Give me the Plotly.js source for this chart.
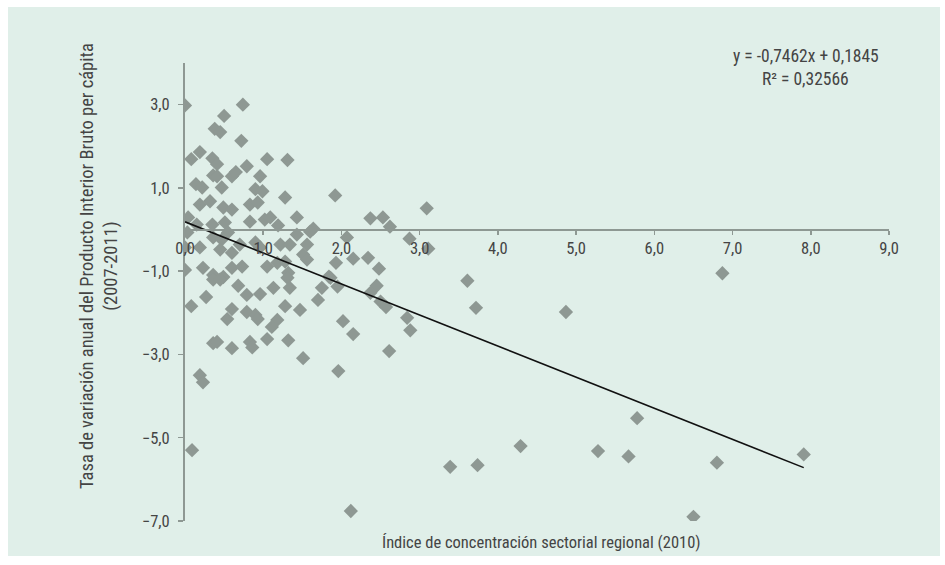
<!DOCTYPE html>
<html>
<head>
<meta charset="utf-8">
<script src="https://cdn.plot.ly/plotly-3.0.1.min.js"></script>
<style>
html,body{margin:0;padding:0;background:#ffffff;width:945px;height:565px;overflow:hidden;}
#chart{position:absolute;left:8px;top:7px;width:932px;height:549px;}
</style>
</head>
<body>
<div id="chart"></div>
<script>
// Índice de concentración sectorial regional (2010)
const concentracion = [
  0.00,0.74,0.50,0.38,0.45,0.72,0.08,0.19,0.35,0.41,1.05,1.31,0.79,0.36,0.41,0.60,0.65,0.96,0.14,0.22,
  0.47,0.90,0.99,1.28,1.92,0.19,0.32,0.49,0.60,0.83,0.93,0.83,1.02,0.04,0.15,0.35,0.51,1.43,1.09,1.19,
  1.64,2.37,2.53,2.62,3.09,
  0.03,0.36,0.47,0.55,0.70,0.90,0.96,0.00,0.19,0.45,0.60,0.23,0.36,0.49,0.60,0.73,1.05,0.00,1.43,2.07,
  1.60,1.22,1.34,1.56,1.51,1.56,1.18,1.28,1.32,1.31,1.13,1.34,1.86,1.75,1.95,1.70,1.28,1.47,1.18,1.11,
  2.02,2.15,1.32,1.51,1.96,2.87,3.11,2.34,2.48,2.15,1.93,1.84,2.45,2.37,2.50,2.57,2.84,2.88,2.61,
  0.36,0.45,0.68,0.79,0.96,0.08,0.27,0.60,0.54,0.79,0.90,0.93,1.05,0.36,0.41,0.60,0.83,0.86,0.19,0.23,
  0.09,2.12,
  3.61,3.72,3.39,3.74,4.29,4.87,5.28,5.67,5.78,6.50,6.87,6.80,7.91
];
// Tasa de variación anual del PIB per cápita (2007-2011)
const variacionPIB = [
  2.98,3.00,2.73,2.42,2.34,2.13,1.69,1.86,1.71,1.57,1.69,1.67,1.52,1.30,1.28,1.28,1.38,1.28,1.09,1.01,
  1.01,0.97,0.92,0.77,0.82,0.60,0.68,0.53,0.48,0.60,0.65,0.19,0.24,0.29,0.12,0.12,0.17,0.29,0.29,0.10,
  0.02,0.27,0.29,0.07,0.51,
  -0.07,-0.19,-0.24,-0.07,-0.36,-0.31,-0.43,-0.43,-0.43,-0.48,-0.56,-0.92,-1.09,-1.14,-0.92,-0.89,-0.89,-0.97,-0.12,-0.19,
  -0.05,-0.36,-0.36,-0.36,-0.60,-0.72,-0.80,-0.77,-1.04,-1.16,-1.40,-1.40,-1.16,-1.40,-1.37,-1.69,-1.84,-1.93,-2.17,-2.34,
  -2.20,-2.51,-2.66,-3.09,-3.40,-0.22,-0.46,-0.68,-0.94,-0.70,-0.80,-1.13,-1.35,-1.52,-1.73,-1.86,-2.12,-2.42,-2.92,
  -1.20,-1.20,-1.35,-1.57,-1.55,-1.84,-1.62,-1.91,-2.15,-1.98,-2.05,-2.15,-2.63,-2.73,-2.70,-2.85,-2.70,-2.83,-3.50,-3.67,
  -5.30,-6.76,
  -1.23,-1.88,-5.70,-5.66,-5.20,-1.98,-5.32,-5.45,-4.53,-6.90,-1.05,-5.60,-5.40
];
// Linear trendline as printed on the chart
const pendiente = -0.7462;
const intercepto = 0.1845;
const textoEcuacion = "y = -0,7462x + 0,1845";
const textoR2 = "R² = 0,32566";
const tituloX = "Índice de concentración sectorial regional (2010)";
const tituloY = "Tasa de variación anual del Producto Interior Bruto per cápita<br>(2007-2011)";

const xMin = Math.min(...concentracion), xMax = Math.max(...concentracion);
const trendX = [xMin, xMax];
const trendY = trendX.map(v => pendiente * v + intercepto);

const FONT = "'Liberation Sans Narrow', 'Arial Narrow', 'Roboto Condensed', 'Liberation Sans', sans-serif";
const TXT = "#444444";
const AXIS = "#8e9893";
const BG = "#e0efe9";

const data = [
  {x: concentracion, y: variacionPIB, type: "scatter", mode: "markers",
   marker: {symbol: "diamond", size: 11, color: "#8e9893", line: {width: 0}},
   hoverinfo: "x+y", showlegend: false},
  {x: trendX, y: trendY, type: "scatter", mode: "lines",
   line: {color: "#111111", width: 1.6}, hoverinfo: "skip", showlegend: false}
];

const layout = {
  width: 932, height: 549,
  margin: {l: 177, r: 51, t: 56, b: 35},
  paper_bgcolor: BG, plot_bgcolor: BG,
  separators: ",.",
  font: {family: FONT, size: 16, color: TXT},
  showlegend: false,
  xaxis: {
    range: [0, 9], tickmode: "linear", tick0: 0, dtick: 1, tickformat: ".1f",
    showgrid: false, zeroline: false, showline: true, linecolor: AXIS, linewidth: 2,
    ticks: "outside", ticklen: 4, tickcolor: AXIS, tickwidth: 1.5,
    anchor: "free", position: 7/11,
    tickfont: {family: FONT, size: 16.5, color: TXT}
  },
  yaxis: {
    range: [-7, 4], tickmode: "linear", tick0: -7, dtick: 2, tickformat: ".1f",
    showgrid: false, zeroline: false, showline: true, linecolor: AXIS, linewidth: 2,
    ticks: "outside", ticklen: 5, tickcolor: AXIS, tickwidth: 1.5,
    ticklabelstandoff: 5,
    tickfont: {family: FONT, size: 16.5, color: TXT}
  },
  annotations: [
    {text: tituloX, xref: "paper", yref: "paper", x: 0.507, y: -0.048,
     xanchor: "center", yanchor: "middle", showarrow: false,
     font: {family: FONT, size: 16.5, color: TXT}},
    {text: tituloY, xref: "paper", yref: "paper", x: -0.122, y: 0.557,
     xanchor: "center", yanchor: "middle", showarrow: false, textangle: -90,
     font: {family: FONT, size: 18.5, color: TXT}},
    {text: textoEcuacion, xref: "paper", yref: "paper", x: 0.882, y: 1.015,
     xanchor: "center", yanchor: "middle", showarrow: false,
     font: {family: FONT, size: 17.5, color: TXT}},
    {text: textoR2, xref: "paper", yref: "paper", x: 0.882, y: 0.965,
     xanchor: "center", yanchor: "middle", showarrow: false,
     font: {family: FONT, size: 17.5, color: TXT}}
  ]
};

Plotly.newPlot("chart", data, layout, {displayModeBar: false, staticPlot: true});
</script>
</body>
</html>
